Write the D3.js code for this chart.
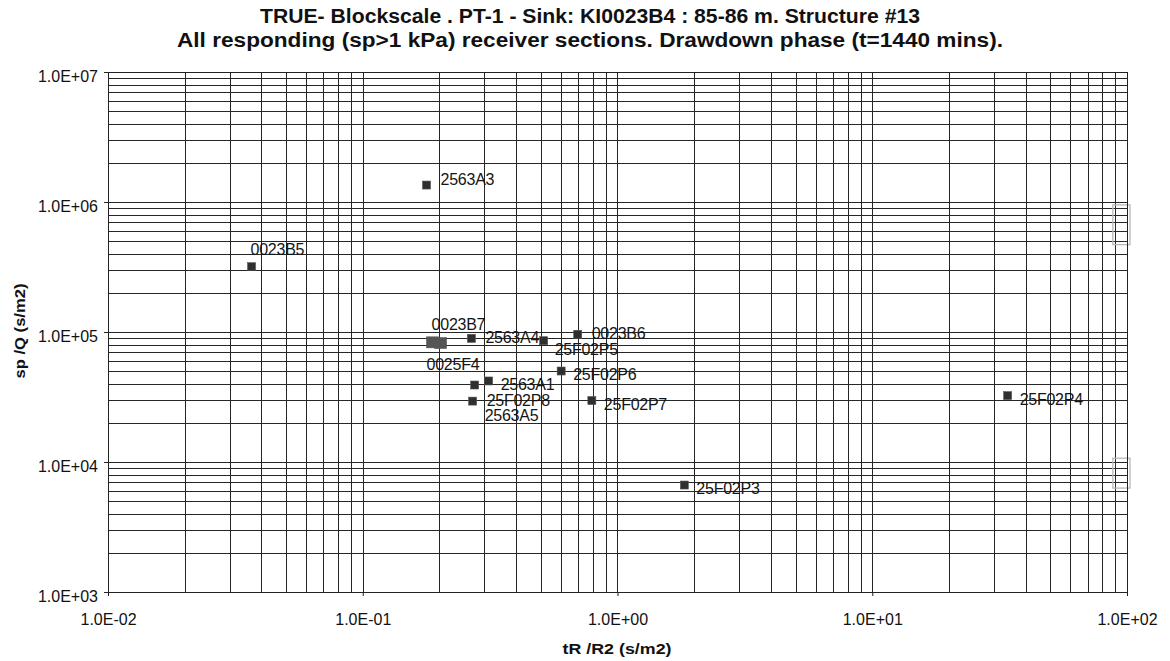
<!DOCTYPE html>
<html>
<head>
<meta charset="utf-8">
<script src="https://cdn.jsdelivr.net/npm/d3@7"></script>
<style>
  html, body { margin: 0; padding: 0; background: #fff; }
  svg { display: block; font-family: "Liberation Sans", Arial, sans-serif; }
</style>
</head>
<body>
<svg id="chart" width="1170" height="661"></svg>
<script>
// Receiver sections and their normalised responses
const sections = ["2563A3", "0023B5", "0023B7", "0025F4", "2563A4", "25F02P5", "0023B6",
                  "25F02P6", "2563A1", "2563A5", "25F02P8", "25F02P7", "25F02P3", "25F02P4"];
const tR_R2 = [0.178, 0.0366, 0.188, 0.202, 0.267, 0.513, 0.698,
               0.601, 0.312, 0.275, 0.27, 0.793, 1.83, 34.0];
const sp_Q  = [1.35e6, 3.18e5, 8.4e4, 8.3e4, 8.94e4, 8.57e4, 9.6e4,
               5.01e4, 4.2e4, 3.91e4, 2.94e4, 2.97e4, 6.65e3, 3.24e4];

// Where each data label sits relative to its marker
const labelPlacement = ["right-up", "above", "above", "below-left", "right", "below-right", "right",
                        "right-low", "right-low", "far-below", "right", "right-low", "right-low", "right-low"];

const xTicks = [1e-2, 1e-1, 1e0, 1e1, 1e2];
const yTicks = [1e3, 1e4, 1e5, 1e6, 1e7];
const xTickLabels = ["1.0E-02", "1.0E-01", "1.0E+00", "1.0E+01", "1.0E+02"];
const yTickLabels = ["1.0E+03", "1.0E+04", "1.0E+05", "1.0E+06", "1.0E+07"];

const titleLines = [
  "TRUE- Blockscale . PT-1 - Sink: KI0023B4 : 85-86 m. Structure #13",
  "All responding (sp>1 kPa) receiver sections. Drawdown phase (t=1440 mins)."
];
const xTitle = "tR /R2 (s/m2)";
const yTitle = "sp /Q (s/m2)";

// ---- layout ----
const plot = { left: 108, right: 1127, top: 72, bottom: 592 };

const svg = d3.select("#chart");

const x = d3.scaleLog().domain([1e-2, 1e2]).range([plot.left, plot.right]);
const y = d3.scaleLog().domain([1e3, 1e7]).range([plot.bottom, plot.top]);

// minor (2..9) and major grid values for each decade
function logGrid(lo, hi) {
  const out = [];
  for (let e = Math.log10(lo); e < Math.log10(hi); e++) {
    for (let m = 1; m <= 9; m++) out.push(m * Math.pow(10, e));
  }
  out.push(hi);
  return out;
}

const grid = svg.append("g").attr("shape-rendering", "crispEdges");
grid.selectAll("line.gx").data(logGrid(1e-2, 1e2)).join("line")
  .attr("class", "gx")
  .attr("x1", d => Math.round(x(d)) + 0.5).attr("x2", d => Math.round(x(d)) + 0.5)
  .attr("y1", plot.top).attr("y2", plot.bottom)
  .attr("stroke", "#262626").attr("stroke-width", 1);
grid.selectAll("line.gy").data(logGrid(1e3, 1e7)).join("line")
  .attr("class", "gy")
  .attr("x1", plot.left).attr("x2", plot.right)
  .attr("y1", d => Math.round(y(d)) + 0.5).attr("y2", d => Math.round(y(d)) + 0.5)
  .attr("stroke", "#262626").attr("stroke-width", 1);

// faint boxes along the right edge of the plot
const edgeBoxes = [[9.5e5, 4.7e5], [1.07e4, 6.3e3]];
svg.append("g").selectAll("rect").data(edgeBoxes).join("rect")
  .attr("x", x(88)).attr("y", d => y(d[0]))
  .attr("width", x(100) - x(88) + 3).attr("height", d => y(d[1]) - y(d[0]))
  .attr("fill", "none").attr("stroke", "#b8b8b8").attr("stroke-width", 1.3);

// plot frame
svg.append("rect")
  .attr("x", plot.left + 0.5).attr("y", plot.top + 0.5)
  .attr("width", plot.right - plot.left).attr("height", plot.bottom - plot.top)
  .attr("fill", "none").attr("stroke", "#222").attr("stroke-width", 1.2)
  .attr("shape-rendering", "crispEdges");

// axes
const xAxis = d3.axisBottom(x).tickValues(xTicks).tickSize(4).tickPadding(18)
  .tickFormat((d, i) => xTickLabels[i]);
const yAxis = d3.axisLeft(y).tickValues(yTicks).tickSize(4).tickPadding(6)
  .tickFormat((d, i) => yTickLabels[i]);

const gx = svg.append("g").attr("transform", `translate(0,${plot.bottom})`).call(xAxis);
const gy = svg.append("g").attr("transform", `translate(${plot.left},0)`).call(yAxis);
[gx, gy].forEach(g => {
  g.select(".domain").remove();
  g.selectAll(".tick line").attr("stroke", "#222");
  g.selectAll(".tick text").attr("font-size", 16).attr("fill", "#111")
    .attr("font-family", "'Liberation Sans', Arial, sans-serif");
});
gy.selectAll(".tick text").attr("dy", "0.6em");

// markers
const pts = sections.map((s, i) => ({ name: s, tx: tR_R2[i], sq: sp_Q[i], place: labelPlacement[i] }));
const overlapped = new Set(["0023B7", "0025F4"]);
svg.append("g").selectAll("rect").data(pts).join("rect")
  .attr("x", d => x(d.tx) - (overlapped.has(d.name) ? 6 : 4))
  .attr("y", d => y(d.sq) - (overlapped.has(d.name) ? 5 : 4))
  .attr("width", d => overlapped.has(d.name) ? 12 : 8)
  .attr("height", d => overlapped.has(d.name) ? 11 : 8)
  .attr("fill", d => overlapped.has(d.name) ? "#555" : "#2f2f2f")
  .attr("stroke", "#555").attr("stroke-width", 0.6);

// data labels
const offsets = {
  "right-up": [14, 0],
  "above": [-1, -12],
  "below-left": [-14, 27],
  "right": [14, 5],
  "below-right": [11, 14],
  "right-low": [12, 9],
  "far-below": [10, 36]
};
svg.append("g").selectAll("text").data(pts).join("text")
  .attr("x", d => x(d.tx) + offsets[d.place][0])
  .attr("y", d => y(d.sq) + offsets[d.place][1])
  .attr("font-size", 16).attr("fill", "#151515")
  .attr("letter-spacing", -0.25)
  .text(d => d.name);

// titles
const titleWidths = [660, 826];
svg.append("g").selectAll("text").data(titleLines).join("text")
  .attr("x", 590).attr("y", (d, i) => 23 + i * 24)
  .attr("text-anchor", "middle").attr("font-weight", "bold").attr("font-size", 20)
  .attr("textLength", (d, i) => titleWidths[i]).attr("lengthAdjust", "spacingAndGlyphs")
  .attr("fill", "#111")
  .text(d => d);

svg.append("text").attr("x", 617).attr("y", 654)
  .attr("text-anchor", "middle").attr("font-weight", "bold").attr("font-size", 15)
  .attr("textLength", 109).attr("lengthAdjust", "spacingAndGlyphs")
  .attr("fill", "#111").text(xTitle);

svg.append("text").attr("transform", "translate(25,331) rotate(-90)")
  .attr("text-anchor", "middle").attr("font-weight", "bold").attr("font-size", 15)
  .attr("textLength", 95).attr("lengthAdjust", "spacingAndGlyphs")
  .attr("fill", "#111").text(yTitle);
</script>
</body>
</html>
